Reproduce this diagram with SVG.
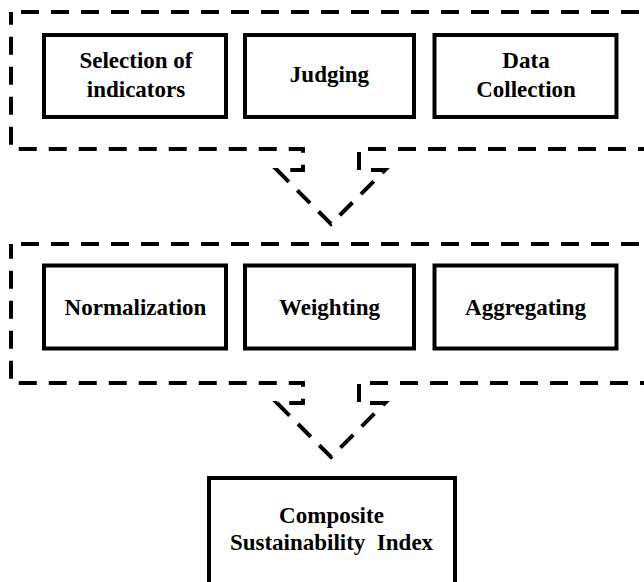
<svg xmlns="http://www.w3.org/2000/svg" width="644" height="582" viewBox="0 0 644 582">
  <style>
    .box { fill: #ffffff; stroke: #000000; stroke-width: 4; }
    .dash { fill: none; stroke: #000000; stroke-width: 4; stroke-dasharray: 18 12; stroke-dashoffset: 20; }
    .lbl { font-family: 'Liberation Serif', 'DejaVu Serif', serif; font-weight: bold; font-size: 23px; fill: #000000; text-anchor: middle; }
  </style>
  <rect x="0" y="0" width="644" height="582" fill="#ffffff"/>
  <g id="connectors">
    <path id="group1" class="dash" d="M 11 12 H 660 V 149 H 359 V 170 H 385 L 331 224 L 277 170 H 303 V 149 H 11 Z"/>
    <path id="group2" class="dash" d="M 11 244 H 660 V 383 H 359 V 403 H 385 L 331 457 L 277 403 H 303 V 383 H 11 Z"/>
  </g>
  <g id="selection">
    <rect class="box" x="44" y="35" width="182" height="82"/>
    <text class="lbl" x="136" y="68">Selection of</text>
    <text class="lbl" x="136" y="97">indicators</text>
  </g>
  <g id="judging">
    <rect class="box" x="245" y="35" width="169" height="82"/>
    <text class="lbl" x="329.5" y="82">Judging</text>
  </g>
  <g id="datacollection">
    <rect class="box" x="434.5" y="35" width="182" height="82"/>
    <text class="lbl" x="526" y="68">Data</text>
    <text class="lbl" x="526" y="97">Collection</text>
  </g>
  <g id="normalization">
    <rect class="box" x="44" y="265.5" width="182" height="83"/>
    <text class="lbl" x="135.5" y="315">Normalization</text>
  </g>
  <g id="weighting">
    <rect class="box" x="245" y="265.5" width="169" height="83"/>
    <text class="lbl" x="329.5" y="315">Weighting</text>
  </g>
  <g id="aggregating">
    <rect class="box" x="434.5" y="265.5" width="182" height="83"/>
    <text class="lbl" x="525.5" y="315">Aggregating</text>
  </g>
  <g id="composite">
    <rect class="box" x="209" y="478" width="246" height="120"/>
    <text class="lbl" x="331.5" y="523">Composite</text>
    <text class="lbl" x="331.5" y="550" xml:space="preserve">Sustainability  Index</text>
  </g>
</svg>
